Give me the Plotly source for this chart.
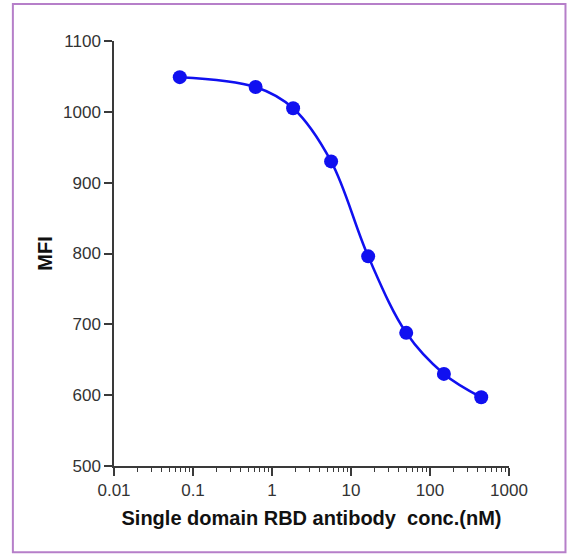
import plotly.graph_objects as go

conc_nM = [0.068, 0.62, 1.85, 5.6, 16.5, 50, 150, 445]
mfi = [1049, 1035, 1005, 930, 796, 688, 630, 597]

x_tickvals = [0.01, 0.1, 1, 10, 100, 1000]
x_ticktext = ["0.01", "0.1", "1", "10", "100", "1000"]
y_tickvals = [500, 600, 700, 800, 900, 1000, 1100]

blue = "#1010f0"
axis_col = "#3a3a3a"
font_fam = "Liberation Sans, Arial, sans-serif"

fig = go.Figure()
fig.add_trace(go.Scatter(
    x=conc_nM, y=mfi, mode="lines",
    line=dict(color=blue, width=2.5, shape="spline", smoothing=1.0),
    hoverinfo="skip", showlegend=False,
))
fig.add_trace(go.Scatter(
    x=conc_nM, y=mfi, mode="markers",
    marker=dict(color=blue, size=14),
    showlegend=False,
))

fig.update_layout(
    width=570, height=554,
    margin=dict(l=114, r=61, t=41, b=88),
    paper_bgcolor="white", plot_bgcolor="white",
    font=dict(family=font_fam, color="#333333"),
    shapes=[dict(type="rect", xref="paper", yref="paper",
                 x0=-0.256, x1=1.143, y0=-0.203, y1=1.087,
                 line=dict(color="#b67fc9", width=2), layer="below")],
)
fig.update_xaxes(
    type="log", range=[-2, 3],
    tickvals=x_tickvals, ticktext=x_ticktext,
    ticks="outside", ticklen=8, tickwidth=1.5, tickcolor=axis_col,
    showline=True, linecolor=axis_col, linewidth=1.5,
    showgrid=False, zeroline=False,
    tickfont=dict(size=17, color="#333333"),
    minor=dict(ticks="outside", ticklen=4, tickwidth=1.2, tickcolor=axis_col,
               dtick="D1", showgrid=False),
    title=dict(text="<b>Single domain RBD antibody&nbsp; conc.(nM)</b>",
               font=dict(size=20, color="#111111"), standoff=12),
)
fig.update_yaxes(
    range=[500, 1100], tickvals=y_tickvals,
    ticks="outside", ticklen=8, tickwidth=1.5, tickcolor=axis_col,
    showline=True, linecolor=axis_col, linewidth=1.5,
    showgrid=False, zeroline=False,
    tickfont=dict(size=17, color="#333333"),
    title=dict(text="<b>MFI</b>", font=dict(size=20, color="#111111"), standoff=5),
)

fig.write_html("out.html", config={"displayModeBar": False},
               post_script="document.body.style.margin='0';")
